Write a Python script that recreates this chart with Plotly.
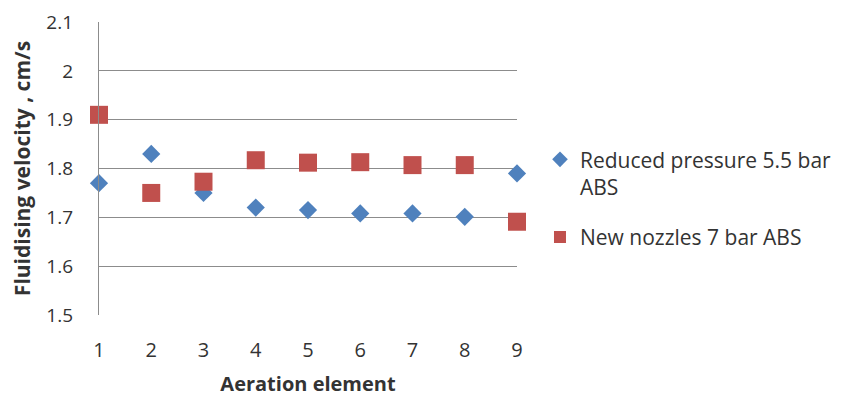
import plotly.graph_objects as go

elements = [1, 2, 3, 4, 5, 6, 7, 8, 9]
reduced_pressure = [1.77, 1.83, 1.75, 1.72, 1.715, 1.708, 1.708, 1.701, 1.79]
new_nozzles = [1.91, 1.75, 1.773, 1.817, 1.812, 1.813, 1.807, 1.807, 1.691]
y_ticks = [1.5, 1.6, 1.7, 1.8, 1.9, 2.0, 2.1]
y_tick_labels = ["1.5", "1.6", "1.7", "1.8", "1.9", "2", "2.1"]

FONT = "'Open Sans', Lato, Arial, sans-serif"
TXT = "#333333"

fig = go.Figure()
fig.add_trace(go.Scatter(
    x=elements, y=reduced_pressure, mode="markers",
    name="Reduced pressure 5.5 bar<br>ABS", legendgroup="a",
    marker=dict(symbol="diamond", size=14, color="#4F81BD"),
    cliponaxis=False,
))
fig.add_trace(go.Scatter(
    x=elements, y=new_nozzles, mode="markers",
    name="New nozzles 7 bar ABS", legendgroup="b",
    marker=dict(symbol="square", size=18, color="#C0504D"),
    cliponaxis=False,
))

fig.update_layout(
    width=841, height=400,
    margin=dict(l=91, r=327, t=14, b=93),
    paper_bgcolor="white", plot_bgcolor="white",
    font=dict(family=FONT, size=19, color=TXT),
    showlegend=True,
    legend=dict(
        x=1.055, y=0.6, xanchor="left", yanchor="top",
        font=dict(size=21, color=TXT),
        itemsizing="constant", traceorder="grouped", tracegroupgap=20,
        valign="top", itemwidth=30,
        bgcolor="rgba(0,0,0,0)",
    ),
    xaxis=dict(
        range=[1, 9], tickvals=elements, ticktext=[str(e) for e in elements],
        showgrid=False, zeroline=False, showline=False, ticks="",
        ticklabelstandoff=21, tickfont=dict(size=20, color=TXT),
        ticklabeloverflow="allow",
        title=dict(text="<b>Aeration element</b>", font=dict(size=20, color=TXT), standoff=14),
        automargin=False,
    ),
    yaxis=dict(
        range=[1.5, 2.1001], tickvals=y_ticks, ticktext=y_tick_labels,
        showgrid=True, gridcolor="#8c8c8c", gridwidth=1.3,
        zeroline=False, showline=True, linecolor="#8c8c8c", linewidth=1.3,
        ticks="", ticklabelstandoff=21, tickfont=dict(size=19, color=TXT),
        ticklabeloverflow="allow",
        title=dict(text="<b>Fluidising velocity , cm/s</b>", font=dict(size=21, color=TXT), standoff=12),
        automargin=False,
    ),
)

fig.write_html("out.html")
